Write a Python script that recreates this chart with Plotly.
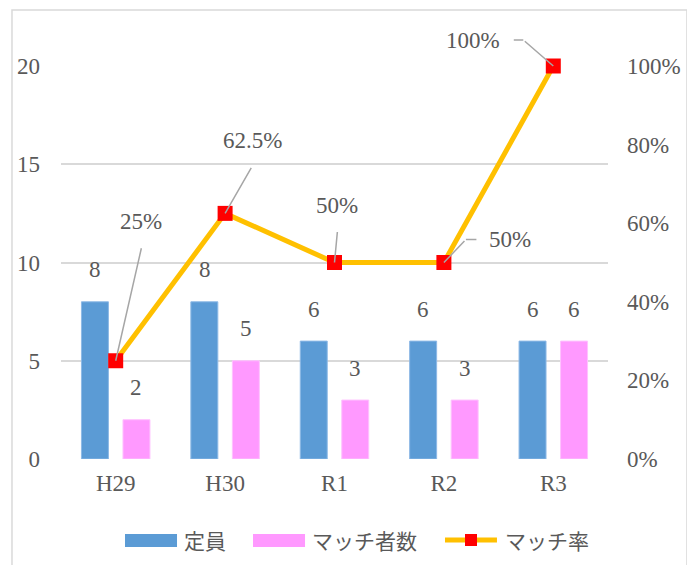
import plotly.graph_objects as go

categories = ["H29", "H30", "R1", "R2", "R3"]
capacity = [8, 8, 6, 6, 6]          # 定員
matched = [2, 5, 3, 3, 6]           # マッチ者数
match_rate = [0.25, 0.625, 0.5, 0.5, 1.0]  # マッチ率
rate_labels = ["25%", "62.5%", "50%", "50%", "100%"]
series_names = ["定員", "マッチ者数", "マッチ率"]

FONT = "Liberation Serif, Noto Sans CJK JP, serif"
JFONT = "Noto Sans CJK JP, sans-serif"
TXT = "#595959"
BLUE = "#5B9BD5"
PINK = "#FF99FF"
GOLD = "#FFC000"
RED = "#FF0000"
LEAD = "#A6A6A6"
FS = 23

fig = go.Figure()
fig.add_trace(go.Bar(x=categories, y=capacity, name=series_names[0], showlegend=False,
                     marker=dict(color=BLUE, line=dict(color="#8DB9E6", width=1))))
fig.add_trace(go.Bar(x=categories, y=matched, name=series_names[1], showlegend=False,
                     marker=dict(color=PINK, line=dict(color="#FFC2FF", width=1))))
fig.add_trace(go.Scatter(x=categories, y=match_rate, name=series_names[2], yaxis="y2",
                         mode="lines+markers", cliponaxis=False, showlegend=False,
                         line=dict(color=GOLD, width=5),
                         marker=dict(symbol="square", size=15, color=RED)))

annotations = []
# bar value labels
for i, c in enumerate(categories):
    annotations.append(dict(x=c, y=capacity[i], xref="x", yref="y", text=str(capacity[i]),
                            showarrow=False, xshift=-20.6, yshift=32,
                            font=dict(family=FONT, size=FS, color=TXT)))
    annotations.append(dict(x=c, y=matched[i], xref="x", yref="y", text=str(matched[i]),
                            showarrow=False, xshift=20.6, yshift=32,
                            font=dict(family=FONT, size=FS, color=TXT)))

# rate labels: text shift (px, y up) and leader polylines (px relative to point, y up)
label_shift = [(25, 139), (27, 73), (2, 57), (66, 23), (-80, 26)]
leader_pts = [
    [(0, 0), (26, 114)],
    [(0, 0), (27, 47)],
    [(0, 0), (3, 32)],
    [(0, 0), (22, 23), (34, 23)],
    [(0, 0), (-30, 26), (-41, 26)],
]
for i, c in enumerate(categories):
    dx, dy = label_shift[i]
    annotations.append(dict(x=i, y=match_rate[i], xref="x", yref="y2", text=rate_labels[i],
                            showarrow=False, xshift=dx, yshift=dy,
                            font=dict(family=FONT, size=FS, color=TXT)))
    pts = leader_pts[i]
    for (sx, sy), (ex, ey) in zip(pts[:-1], pts[1:]):
        annotations.append(dict(x=i, y=match_rate[i], xref="x", yref="y2", text="",
                                showarrow=True, arrowhead=0, arrowwidth=1.5,
                                arrowcolor=LEAD, standoff=0, startstandoff=0,
                                xshift=sx, yshift=sy, ax=ex - sx, ay=-(ey - sy)))

# chart border
shapes = [dict(type="rect", xref="paper", yref="paper", x0=-0.0896, x1=1.1444,
               y0=-0.35, y1=1.1425, line=dict(color="#D9D9D9", width=1.5),
               fillcolor="rgba(0,0,0,0)", layer="below")]

# legend (drawn below the plot)
LY = -0.2061
shapes += [
    dict(type="rect", xref="paper", yref="paper", x0=0.1170, x1=0.2121, y0=-0.2239, y1=-0.1908,
         fillcolor=BLUE, line=dict(width=0)),
    dict(type="rect", xref="paper", yref="paper", x0=0.3510, x1=0.4461, y0=-0.2239, y1=-0.1908,
         fillcolor=PINK, line=dict(width=0)),
    dict(type="line", xref="paper", yref="paper", x0=0.7020, x1=0.7970, y0=LY, y1=LY,
         line=dict(color=GOLD, width=5)),
    dict(type="rect", xref="paper", yref="paper", x0=0.7386, x1=0.7605, y0=-0.2214, y1=-0.1908,
         fillcolor=RED, line=dict(width=0)),
]
for name, lx in zip(series_names, [0.2212, 0.4552, 0.8080]):
    annotations.append(dict(x=lx, y=LY, xref="paper", yref="paper", text=name,
                            xanchor="left", yanchor="middle", showarrow=False,
                            font=dict(family=JFONT, size=21, color=TXT)))

fig.update_layout(
    width=687, height=557,
    margin=dict(l=53, r=87, t=58, b=106, autoexpand=False),
    paper_bgcolor="white", plot_bgcolor="white",
    barmode="group", bargap=0.241, bargroupgap=0.35,
    font=dict(family=FONT, size=FS, color=TXT),
    xaxis=dict(showgrid=False, showline=False, ticks="", zeroline=False,
               tickfont=dict(family=FONT, size=FS, color=TXT), ticklabelstandoff=8),
    yaxis=dict(range=[0, 20], dtick=5, showgrid=True, gridcolor="#D9D9D9", gridwidth=1.5,
               zeroline=False, showline=False, ticks="", ticklabelstandoff=20,
               tickfont=dict(family=FONT, size=FS, color=TXT)),
    yaxis2=dict(range=[0, 1], dtick=0.2, tickformat=".0%", overlaying="y", side="right",
                showgrid=False, zeroline=False, showline=False, ticks="", ticklabelstandoff=18,
                tickfont=dict(family=FONT, size=FS, color=TXT)),
    annotations=annotations,
    shapes=shapes,
    showlegend=False,
)

fig.write_html("out.html")
